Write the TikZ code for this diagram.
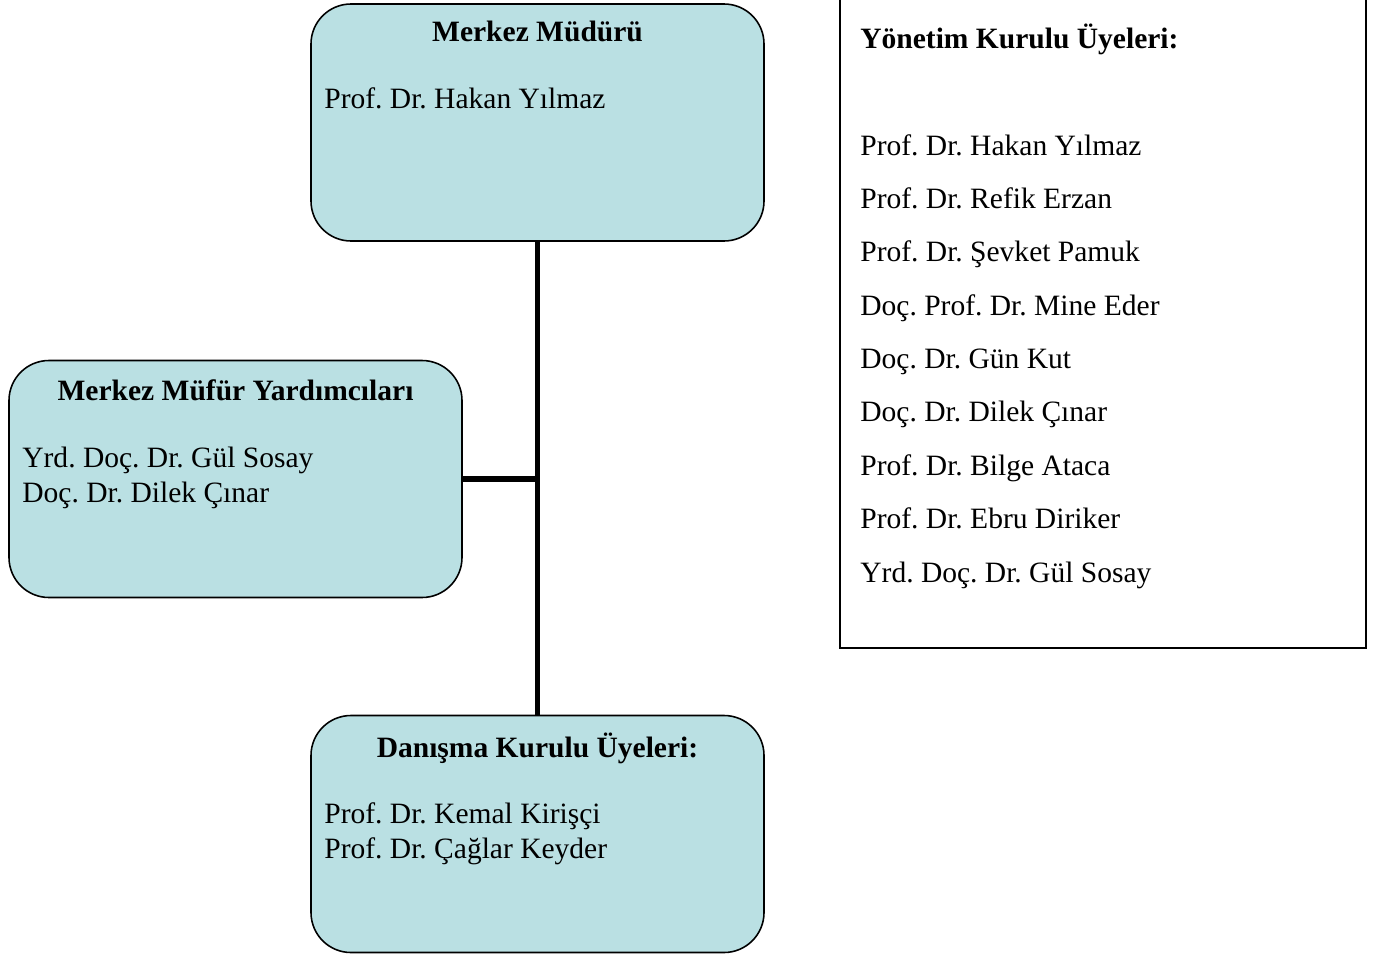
\documentclass[tikz,border=0pt]{standalone}
\usepackage{fontspec}
\setmainfont{Liberation Serif}
\usetikzlibrary{positioning}
\definecolor{boxcyan}{HTML}{BAE0E3}
\frenchspacing
\tikzset{
  unitbox/.style={draw, fill=boxcyan, rounded corners=0.8cm, line width=0.9pt,
    minimum width=9.06cm, minimum height=4.74cm, inner sep=0pt},
  boxtitle/.style={anchor=base, inner sep=0pt, font=\fontsize{16.8}{20}\selectfont\bfseries},
  boxline/.style={anchor=base west, inner sep=0pt, font=\fontsize{16.8}{20}\selectfont},
  link/.style={line width=3.2pt}
}

\begin{document}
\begin{tikzpicture}
   \useasboundingbox (0,0) rectangle (27.68,-19.08);

   % kutular
   \node[unitbox] (mudur) at (10.75,-2.45) {};
   \node[unitbox] (yard) at (4.71,-9.58) {};
   \node[unitbox] (danisma) at (10.75,-16.68) {};

   % baglantilar
   \draw[link] (mudur.south) -- (danisma.north);
   \draw[link] (yard.east) -- (mudur.south |- yard.east);

   % metinler
   \node[boxtitle] (mudurT) at (10.75,-0.84) {Merkez Müdürü};
   \node[boxline] (mudur1) at (6.48,-2.16) {Prof. Dr. Hakan Yılmaz};

   \node[boxtitle] (yardT) at (4.71,-8.0) {Merkez Müfür Yardımcıları};
   \node[boxline] (yard1) at (0.44,-9.34) {Yrd. Doç. Dr. Gül Sosay};
   \node[boxline] (yard2) at (0.44,-10.04) {Doç. Dr. Dilek Çınar};

   \node[boxtitle] (danismaT) at (10.75,-15.14) {Danışma Kurulu Üyeleri:};
   \node[boxline] (danisma1) at (6.48,-16.46) {Prof. Dr. Kemal Kirişçi};
   \node[boxline] (danisma2) at (6.48,-17.16) {Prof. Dr. Çağlar Keyder};

   % yonetim kurulu
   \coordinate (ykTL) at (16.8,0.2);
   \coordinate (ykBR) at (27.32,-12.96);
   \draw[line width=0.9pt] (ykTL) -- (ykTL |- ykBR) -- (ykBR) -- (ykBR |- ykTL);
   \node[boxtitle, anchor=base west] (ykT) at (17.2,-0.96) {Yönetim Kurulu Üyeleri:};
   \foreach \name [count=\i] in {Prof. Dr. Hakan Yılmaz, Prof. Dr. Refik Erzan,
       Prof. Dr. Şevket Pamuk, Doç. Prof. Dr. Mine Eder, Doç. Dr. Gün Kut,
       Doç. Dr. Dilek Çınar, Prof. Dr. Bilge Ataca, Prof. Dr. Ebru Diriker,
       Yrd. Doç. Dr. Gül Sosay}
     \node[boxline] (yk\i) at (17.2,{-3.1-(\i-1)*1.0675}) {\name};
\end{tikzpicture}
\end{document}
